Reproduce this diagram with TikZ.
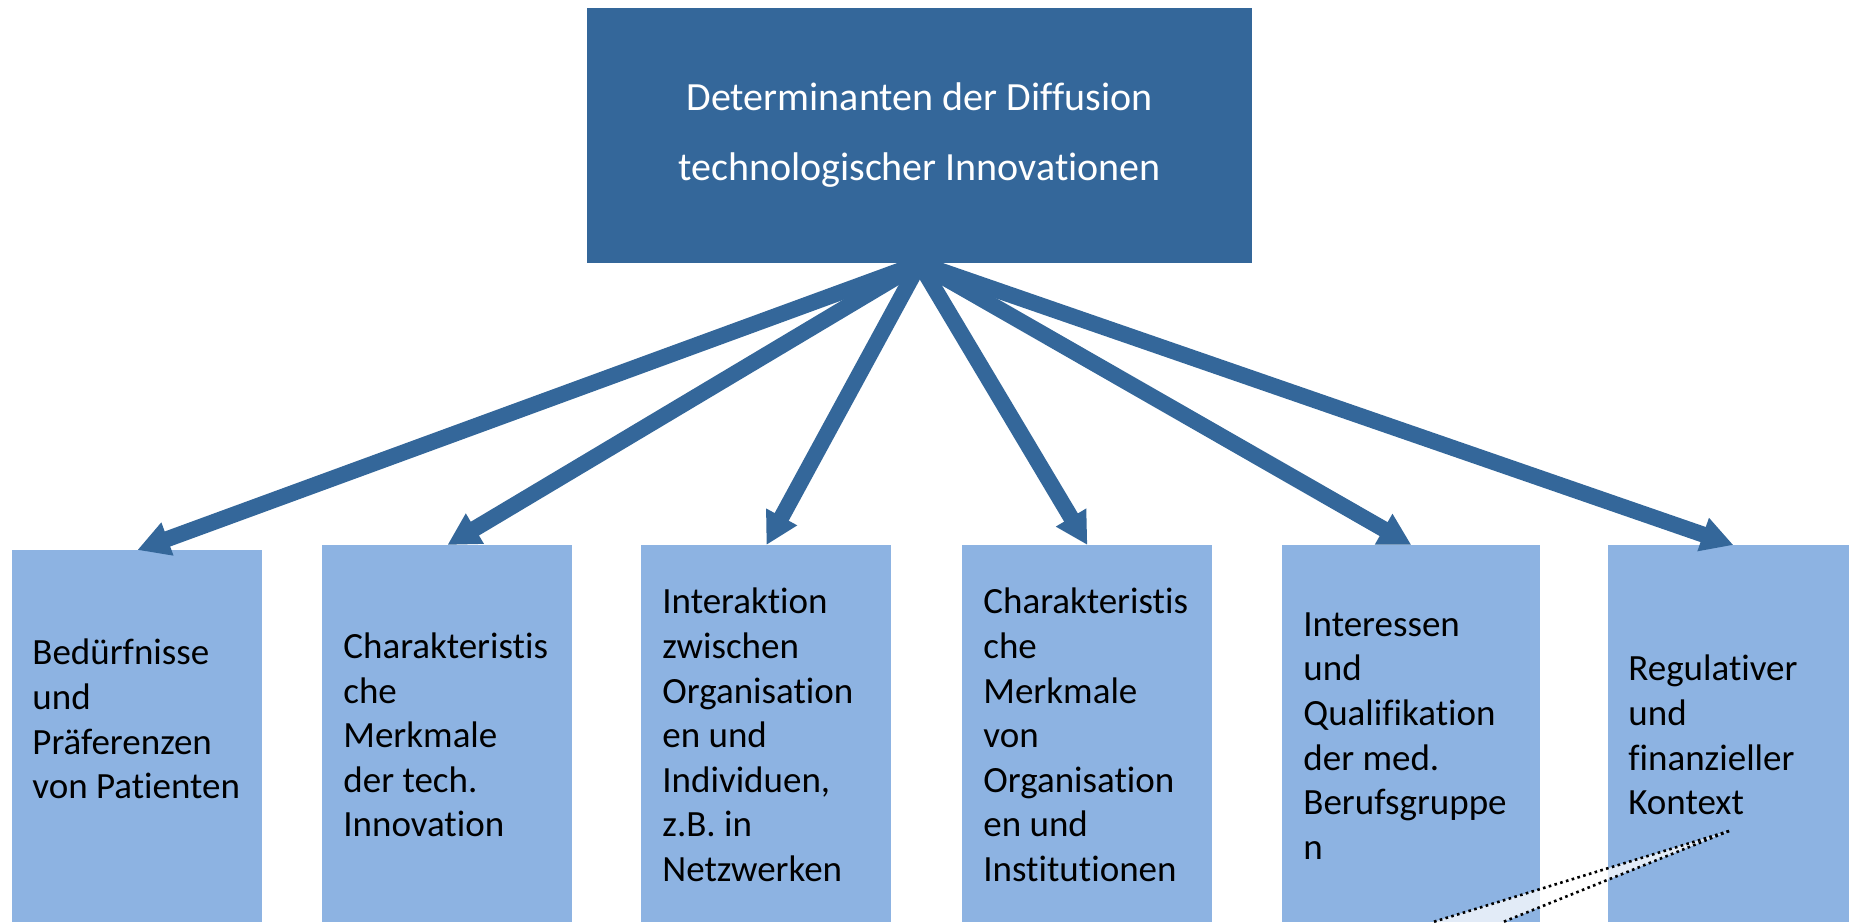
\documentclass[tikz,border=0pt]{standalone}
\usepackage{fontspec}
\setmainfont{Carlito}[Ligatures=NoCommon]
\usetikzlibrary{arrows.meta}
\definecolor{darkblu}{HTML}{34679A}
\definecolor{lightblu}{HTML}{8DB3E2}
\tikzset{
	topbox/.style={fill=darkblu,text=white,align=center,inner sep=0pt,
		minimum width=332.5pt,minimum height=127.5pt,
		font=\fontsize{20}{35}\selectfont},
	lowbox/.style={fill=lightblu,anchor=north west,inner sep=0pt,minimum height=188.5pt},
	boxtext/.style={anchor=west,align=left,inner sep=0pt,
		font=\fontsize{18.5}{22.3}\selectfont},
	bigarrow/.style={draw=darkblu,line width=8pt,-{Triangle[width=16.5pt,length=16pt]}},
	callout/.style={line width=1.3pt,dash pattern=on 1.3pt off 1.7pt}
}
\begin{document}
\begin{tikzpicture}[x=0.5pt,y=-0.5pt]
\useasboundingbox (0,0) rectangle (1849,922);
\node[topbox] (det) at (919.5,135.5) {Determinanten der Diffusion\\technologischer Innovationen};
% untere Kaesten
\node[lowbox,minimum width=125pt,minimum height=186pt] (b1) at (12,550) {};
\node[lowbox,minimum width=125pt] (b2) at (322,545) {};
\node[lowbox,minimum width=125pt] (b3) at (641,545) {};
\node[lowbox,minimum width=125pt] (b4) at (962,545) {};
\node[lowbox,minimum width=129pt] (b5) at (1282,545) {};
\node[lowbox,minimum width=125pt] (b6) at (1608,545) {};
\node[boxtext] (t1) at (32,719) {Bedürfnisse\\und\\Präferenzen\\von Patienten};
\node[boxtext] (t2) at (343,735) {Charakteristis\\che\\Merkmale\\der tech.\\Innovation};
\node[boxtext] (t3) at (662,735) {Interaktion\\zwischen\\Organisation\\en und\\Individuen,\\z.B. in\\Netzwerken};
\node[boxtext] (t4) at (983,735) {Charakteristis\\che\\Merkmale\\von\\Organisation\\en und\\Institutionen};
\node[boxtext] (t5) at (1303,736) {Interessen\\und\\Qualifikation\\der med.\\Berufsgruppe\\n};
\node[boxtext] (t6) at (1628,735) {Regulativer\\und\\finanzieller\\Kontext};
% Pfeile
\foreach \b in {b1,b2,b3,b4,b5,b6}{
	\draw[bigarrow] (det.south) -- (\b.north);}
% Legendenspitze
\coordinate (ctip) at (1729,831);
\coordinate (cl) at (1433,922);
\coordinate (cr) at (1503,922);
\fill[white,fill opacity=0.75] (ctip) -- (cl) -- (cr) -- cycle;
\draw[callout] (ctip) -- (cl);
\draw[callout] (ctip) -- (cr);
\end{tikzpicture}
\end{document}
